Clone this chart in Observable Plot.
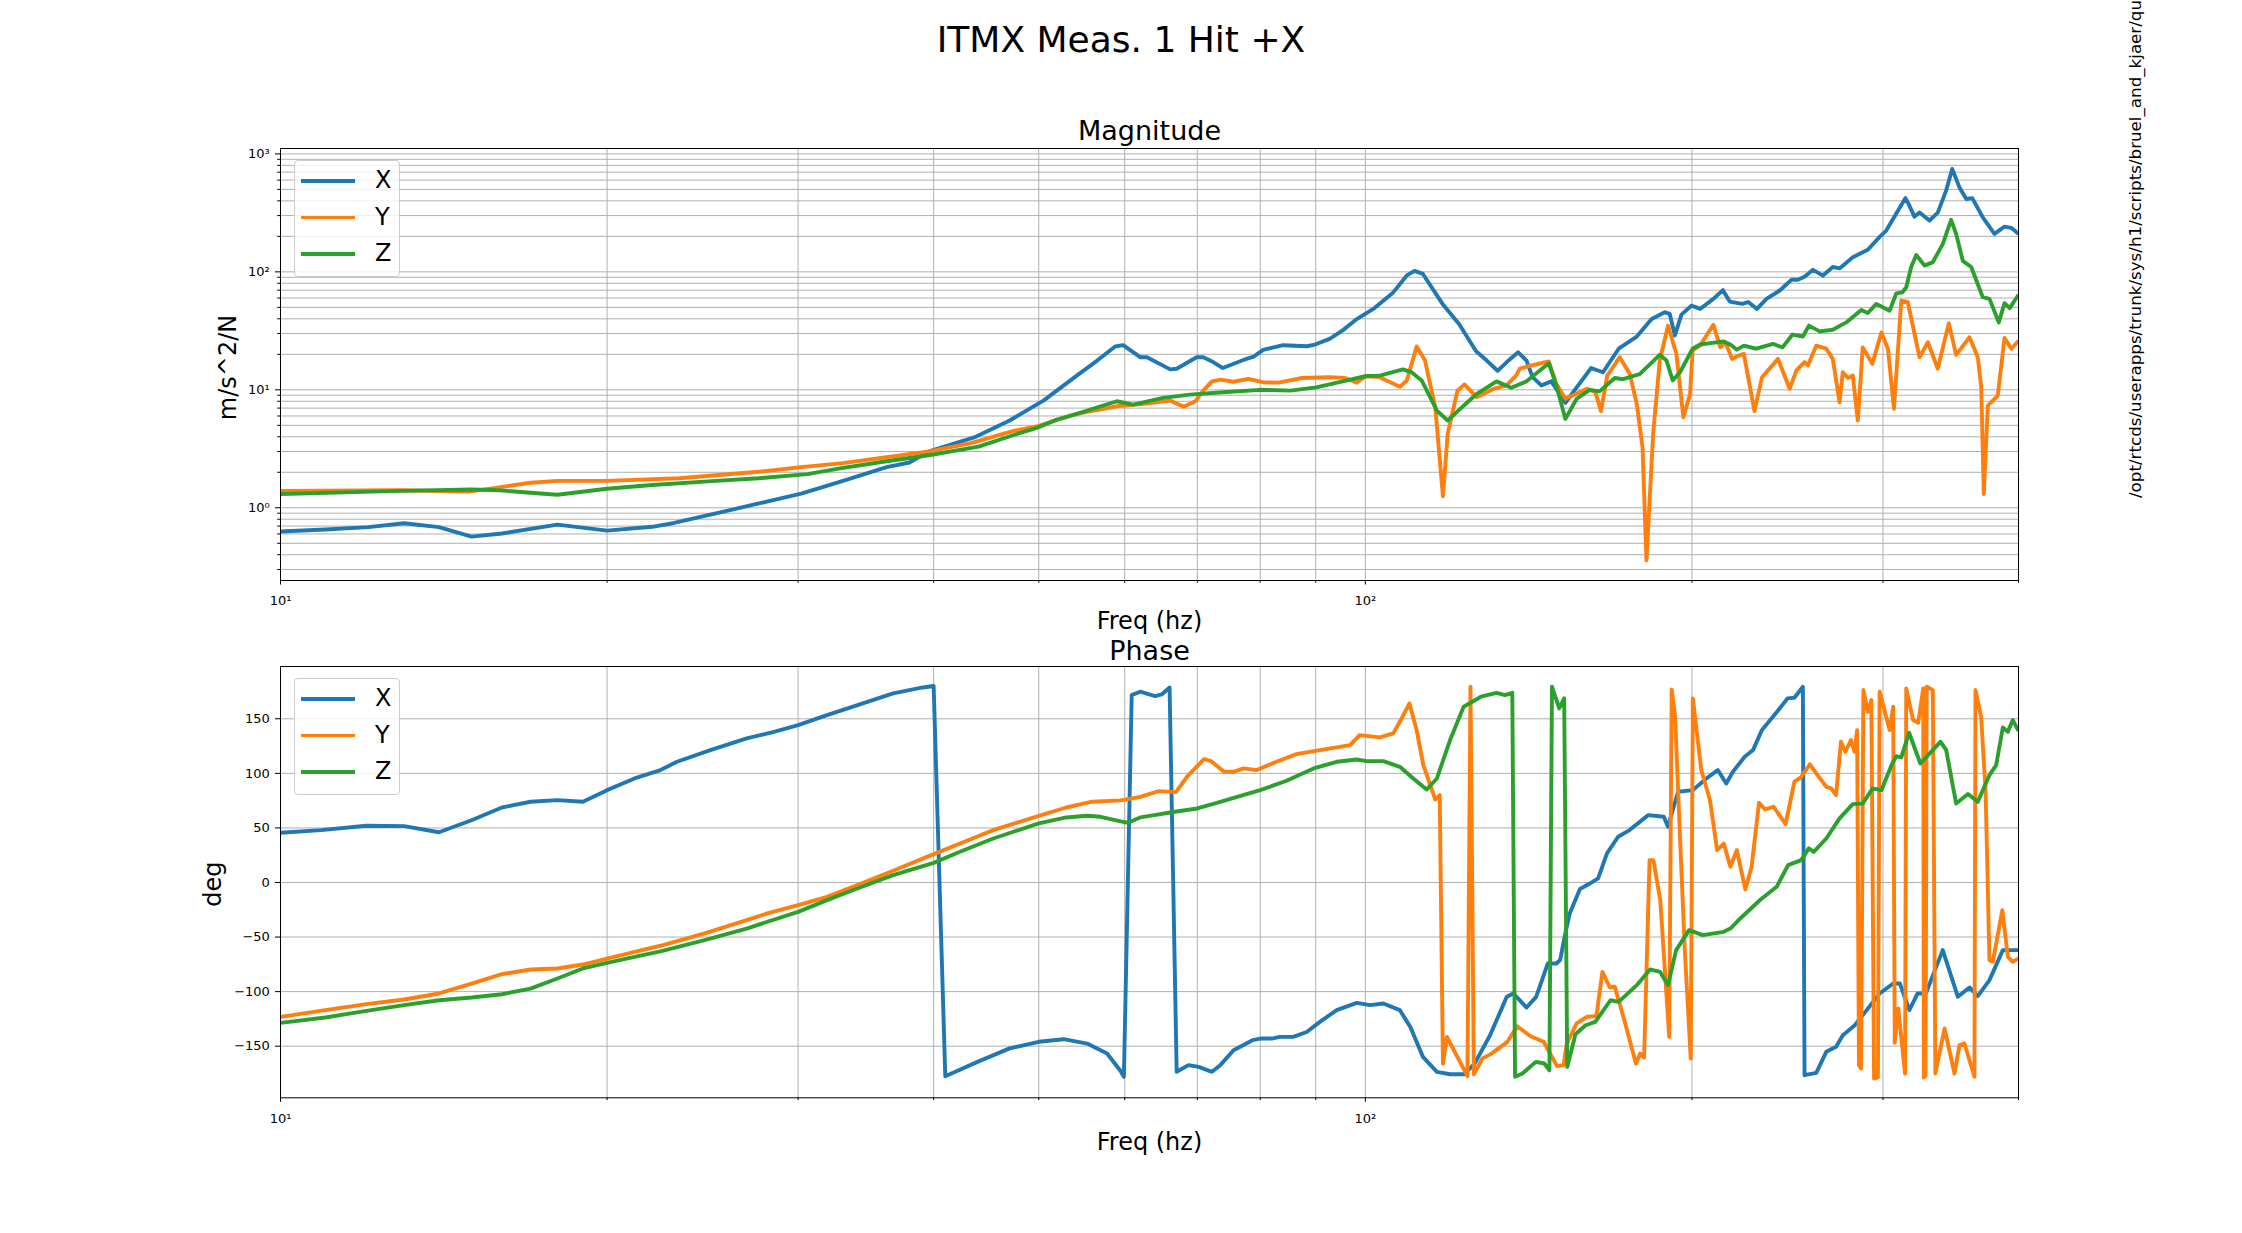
<!DOCTYPE html>
<html>
<head>
<meta charset="utf-8">
<script src="https://cdn.jsdelivr.net/npm/d3@7"></script>
<script src="https://cdn.jsdelivr.net/npm/@observablehq/plot@0.6"></script>
<style>
  html, body { margin: 0; padding: 0; background: white; overflow: hidden; }
  #fig { position: relative; width: 2242px; height: 1233px; overflow: hidden; background: white;
         font-family: "DejaVu Sans", sans-serif; color: black; }
  .abs { position: absolute; white-space: nowrap; line-height: 1; }
  .plotwrap { position: absolute; left: 0; }
</style>
</head>
<body>
<div id="fig"></div>
<script>
// ---------- text ----------
const figTitle = "ITMX Meas. 1 Hit +X";
const magTitle = "Magnitude";
const phaseTitle = "Phase";
const xLabel = "Freq (hz)";
const magYLabel = "m/s^2/N";
const phaseYLabel = "deg";
const sideText = "/opt/rtcds/userapps/trunk/sys/h1/scripts/bruel_and_kjaer/qu";

// ---------- series ----------
const seriesNames = ["X", "Y", "Z"];
const seriesColors = ["#1f77b4", "#ff7f0e", "#2ca02c"];

// ---------- ticks ----------
const freqTicks = [10, 100];
const freqTickLabels = ["10\u00B9", "10\u00B2"];
const freqMinor = [20, 30, 40, 50, 60, 70, 80, 90, 200, 300, 400];
const magTicks = [1, 10, 100, 1000];
const magTickLabels = ["10\u2070", "10\u00B9", "10\u00B2", "10\u00B3"];
const magMinor = [0.3, 0.4, 0.5, 0.6, 0.7, 0.8, 0.9, 2, 3, 4, 5, 6, 7, 8, 9,
                  20, 30, 40, 50, 60, 70, 80, 90, 200, 300, 400, 500, 600, 700, 800, 900];
const phaseTicks = [-150, -100, -50, 0, 50, 100, 150];

// ---------- magnitude data [freq Hz, m/s^2/N] ----------
const magX = [[10,0.63],[11,0.655],[12.05,0.685],[13,0.74],[14,0.685],[15,0.57],[16,0.605],[18,0.72],[20,0.64],[22,0.69],[23,0.74],[25.2,0.895],[27.6,1.09],[30.2,1.32],[33,1.69],[36.2,2.21],[38,2.42],[39.6,3.01],[43.6,3.95],[47,5.49],[50.5,8.1],[54.2,13.2],[56.6,17.7],[58.8,23.3],[59.8,23.9],[62,18.9],[62.9,18.9],[66.1,14.9],[67,15.1],[69.9,18.9],[70.9,18.9],[72.4,17.2],[73.9,15.3],[77.3,18],[78.9,19.1],[80.5,21.8],[84,23.9],[88.3,23.4],[89.9,24.2],[92.7,27],[95.3,31.9],[98.2,39.8],[101.7,48.5],[106.1,67],[109.2,93.3],[111,102],[113,96],[117.8,53.5],[122,36.2],[126.5,21.2],[129.4,17.7],[132.4,14.5],[135,17.2],[138.3,20.8],[140.8,17.7],[142.6,12.8],[145.3,10.9],[148.4,11.8],[152.9,7.75],[156.6,10.5],[161.5,15.3],[165.6,14.1],[171.2,22.3],[177.9,28.3],[183.6,39.8],[188.8,45.5],[190.8,44],[192.9,28.9],[195.6,43.4],[199.8,51.7],[203.5,48.5],[209.3,59],[213.6,70],[216.7,56],[222.5,53.5],[225.4,55.5],[229.6,48.5],[234.3,59],[241,69.5],[247,85.6],[250.4,85.6],[254,91],[258.6,104],[264.1,93],[269.7,110],[273.6,107],[281.4,133],[290.5,154],[297.9,198],[302.1,224],[308.6,312],[314.7,422],[317.3,364],[320.7,294],[324.2,318],[331.1,272],[337,318],[343.1,491],[347.5,746],[352.9,520],[358,415],[362.6,422],[370.8,290],[380.1,210],[388.3,242],[393.9,236],[400,210]];

const magY = [[10,1.39],[12.9,1.41],[14.9,1.37],[15.9,1.49],[17,1.63],[18,1.69],[20,1.69],[23.3,1.78],[27.6,2.02],[30.2,2.21],[33,2.39],[36.2,2.68],[39.6,3.01],[43.2,3.52],[47.5,4.5],[49.8,4.89],[52,5.6],[54.2,6.26],[59,7.26],[62.5,7.6],[66.1,8.1],[68,7.2],[69.7,8],[70.9,9.85],[72.2,11.8],[73.6,12.2],[75.6,11.7],[78,12.4],[80.4,11.6],[83.2,11.5],[87.4,12.6],[92.7,12.8],[95.8,12.6],[98.2,11.5],[100,13],[103.1,12.8],[107.6,10.6],[109.2,12],[111.5,23.3],[113.5,17.7],[116,7.1],[117.9,1.25],[119.1,4.24],[121.6,9.85],[123.4,11.1],[125,9.85],[126.6,8.66],[131.3,10.2],[134.9,10.9],[137.7,13.2],[138.8,15.1],[142,16],[147.6,17.4],[150,11.2],[152.9,8.4],[156.3,9.2],[160,10.2],[162.9,9.6],[164.9,6.6],[167.1,13.2],[171.6,18.9],[175.3,13.6],[177.9,7.6],[180.1,3.26],[181.6,0.358],[184.2,4.24],[186.8,17.7],[190.1,35],[193.5,20.2],[196.4,5.85],[199.2,9.2],[200.3,21.6],[203.5,23.7],[209.3,35.6],[212.4,22.9],[214.7,25.3],[217.8,18.3],[220.9,19.5],[223.3,20.2],[228.4,6.6],[232.1,12.8],[240.1,18.3],[246.1,10.2],[249.7,14.6],[254,17.2],[255.8,16.1],[260.4,23.7],[266,22.3],[269.7,18.3],[273.6,7.85],[275.5,14.1],[278.5,12.6],[281.4,13.2],[284.4,5.49],[287.4,22.9],[293.3,16.6],[299,30.6],[303.2,22.3],[307.1,6.9],[311.9,57],[316.2,55.5],[324.2,18.9],[330,25.3],[337,15.1],[345,36.6],[350.4,19.8],[360.5,27.9],[366.9,18.9],[369.6,10.5],[371.6,1.31],[374.8,7.36],[382.8,8.95],[388.3,27.5],[393.9,22.3],[400,26]];

const magZ = [[10,1.31],[12.9,1.39],[15,1.43],[15.9,1.41],[17,1.34],[18,1.29],[20,1.45],[22,1.56],[25.2,1.69],[27.6,1.78],[30.6,1.93],[33,2.18],[36.2,2.48],[39.6,2.79],[44,3.3],[47.5,4.16],[49.8,4.76],[52,5.6],[54.2,6.26],[59,8],[61.1,7.5],[65.1,8.55],[68.9,9.1],[73.9,9.55],[80,10],[85.3,9.85],[90.1,10.5],[95.3,11.8],[100.2,13.1],[103.1,13.2],[108.3,14.9],[110.3,14.1],[112.7,12],[116.4,6.67],[119.1,5.49],[122.3,6.9],[126.7,9.25],[132.1,11.8],[136.3,10.4],[140.8,11.8],[147.6,16.8],[150,10.9],[152.9,5.67],[156.6,8.4],[161,10],[164.4,9.7],[169.8,12.6],[172.8,12.3],[179,13.6],[186.8,19.8],[189.5,17.7],[192,12],[195,14.1],[200.3,22.3],[203.5,24.2],[207.9,24.9],[214,25.7],[217,24.2],[220,21.9],[223.3,23.7],[229.3,22.3],[237.6,24.5],[242.4,22.9],[247.6,29.4],[253.1,28.3],[256.4,35],[262.3,31.3],[269.7,32.3],[277.5,37.3],[286.5,47.6],[290.5,44.8],[295.8,53.5],[304.3,46.9],[308.6,65.7],[312.6,67],[315.2,74],[318.5,110],[322,139],[327.7,113],[333.5,121],[340.6,172],[346.7,276],[350.4,210],[355.4,124],[361.8,110],[370.8,61],[376.1,59],[383.6,37.3],[388.3,54.2],[392.6,49.3],[400,64]];

// ---------- phase data [freq Hz, deg] ----------
const phaseX = [[10,45.5],[10.9,48],[12,52],[13,51.6],[14,46],[15,57],[16,68.7],[17,74],[18,75.5],[19,74],[20,84.6],[21.2,95.3],[22.4,103],[23.2,110.6],[24.9,121.3],[26.9,132],[28.5,138],[30,144.2],[31.9,153.4],[34.2,163.2],[36.7,173.2],[39.1,178.7],[40,180],[41,-177.5],[43.9,-164.4],[47,-152],[50,-146],[52.7,-143.6],[55.4,-147.6],[57.8,-156.7],[59.5,-173],[59.9,-178],[60.9,171.7],[62,174.8],[64,170.8],[64.9,172.3],[66,178.7],[67,-173.5],[68.7,-167.4],[70.2,-169],[72.2,-173.5],[73.5,-167.4],[75.6,-153.7],[78.7,-144.5],[80,-143],[82,-143],[83.4,-141.5],[85.8,-141.5],[88.3,-137],[90.8,-127.7],[94.1,-117],[98.2,-110.3],[101,-112.4],[103.9,-110.9],[107.6,-117],[110,-132.3],[113,-159.8],[116.4,-173.5],[119.7,-175.7],[123.4,-175.7],[126.1,-166],[130.3,-140],[135,-104.8],[136.9,-101.7],[140.8,-114.6],[143.7,-104.8],[147.3,-74.2],[150,-74.2],[151.2,-71],[153.1,-43.7],[154.3,-28.4],[157.7,-6],[161,-1],[163.9,3.7],[167,26.6],[171,41.9],[175.2,48],[182.3,61.7],[188.4,60.2],[190.1,51],[194.2,83.1],[200.4,84.6],[206.2,95.3],[211.3,103],[215.1,90.7],[218.2,101.4],[223.7,115.2],[227.7,121.3],[232,139.6],[239.6,156.4],[245,168.7],[248.6,169.3],[253.1,179.3],[254,-176.6],[260.4,-174.5],[266,-155.2],[271.6,-150.6],[275.5,-140],[282.6,-130.8],[289.8,-117],[297.9,-101.7],[306.6,-92.6],[311,-92.6],[317.3,-117],[322.9,-101.7],[328.6,-101.7],[340.6,-62],[351.7,-104.8],[360.5,-96.2],[366.9,-104.2],[376.1,-89.5],[386.9,-62],[400,-62]];

const phaseY = [[10,-123.1],[11,-117],[12,-111.5],[13,-107.2],[14,-101.7],[15,-92.6],[16,-84],[17,-79.7],[18,-78.8],[19,-75.2],[20,-69.7],[21.2,-63.5],[22.4,-58],[24.6,-46.7],[26.9,-34.5],[28.1,-28.4],[30,-20.8],[31.9,-13.1],[34.2,-1.5],[36.7,10.7],[40,26],[42.3,35.7],[45.4,48],[50,61.1],[53,68.7],[56,74],[59.5,75.2],[62,78.5],[64.5,83.7],[66.9,82.8],[68.5,96.9],[71,113],[72,111.5],[74.1,101.4],[75.6,101.4],[77.2,104.5],[79.4,103],[82.8,110.6],[86.4,117.6],[90.8,121.3],[96.8,125.9],[98.8,135],[103.1,132.9],[106.1,136.6],[108,150.3],[109.8,164],[111.5,139.6],[113.1,107.5],[116,76],[117.1,80],[117.9,-166],[118.9,-141.5],[124.2,-177.5],[125,179.5],[125.9,-175.7],[128.2,-161.3],[130.5,-157.3],[135.2,-146],[138,-131.7],[142,-140.9],[146,-146],[150.2,-168.3],[152.3,-167.4],[153.3,-148],[155.5,-135.3],[156.6,-129.2],[160,-123.1],[163.3,-122.5],[165.4,-81.9],[168,-96.2],[169.8,-95.6],[173.6,-129.2],[177.6,-166],[179.2,-156.7],[180.7,-160.4],[182.8,20.5],[184.3,20.5],[187,-16.2],[190.6,-141.5],[191.6,176.9],[193,151.8],[195,41.9],[197,-62],[199.5,-161.3],[200.4,168.7],[204,103],[207.8,75.5],[211,29.6],[214,35.7],[217,14.4],[220,29.6],[224,-6.4],[227,14.4],[230.6,73],[233.6,66.9],[237.8,69.4],[244,53.5],[248.6,92.3],[252,96.2],[256.9,108.2],[260.4,100],[266,87.7],[268.8,86.2],[271.6,80],[274.4,128.9],[277,119.8],[280.3,130.5],[282.4,119.8],[284,139.6],[285.1,-167.4],[286.4,-170.5],[287.8,176.3],[290.5,156.4],[292.7,167.1],[294.4,-179.7],[296.8,-178.7],[297.9,174.8],[304.3,139.6],[306.6,161],[307.6,-147],[309.9,-115.5],[314.4,-175],[315.2,177.8],[319.8,148.8],[323.3,146.3],[326.8,177.8],[327.2,-178.7],[328.4,-177],[329.2,179.5],[333.5,176.3],[335.3,-175],[341.9,-133.8],[349.2,-175],[352.9,-149],[356.6,-147.6],[364.3,-178],[365.1,176.3],[369.5,151.8],[373,84.6],[376.1,-71.2],[378.8,-72.7],[386.5,-25.4],[391.1,-68.1],[395.2,-72.7],[400,-69.7]];

const phaseZ = [[10,-128.6],[11,-123.7],[12,-117.6],[13,-112.4],[14,-107.9],[15,-105.4],[16,-102.4],[17,-97.2],[18,-88],[19,-78.8],[20,-73.6],[21.2,-68.1],[22.4,-63.2],[24.6,-52.9],[26.9,-42.2],[30,-26.9],[31.9,-16.2],[34.2,-4.6],[36.7,6.7],[40,18],[42.3,28.1],[45.4,40.3],[50,54.1],[53,59.6],[55.4,61.1],[57,60.2],[59.5,56],[60.4,54.7],[62,59.6],[63.9,61.7],[66.7,64.8],[70,67.8],[73.5,73.9],[77.7,81],[80,84.6],[84.6,93.2],[89.6,104.5],[94.1,110.6],[98.2,112.7],[100.2,111.2],[103.9,111.2],[107.6,106],[110.7,95.3],[113.9,85.2],[116.4,95.3],[119.7,130.5],[123.2,161],[127.8,170.2],[132.1,173.8],[134.5,171.7],[136.6,173.8],[137.4,-178],[139.6,-175],[143.6,-164.4],[146.2,-165.9],[147.8,-172],[148.6,179.5],[150.9,159.5],[152.5,168.7],[153.5,-169],[156.2,-139],[159.6,-130.8],[162.9,-127.7],[168.3,-107.9],[171.2,-109.4],[177.9,-94.1],[183,-79.7],[186.9,-81.9],[190.1,-94.1],[193.4,-62],[198.8,-43.7],[204.6,-48.3],[213.9,-45.2],[217,-42.2],[221.6,-33],[231.4,-15.6],[239.4,-4],[245.3,15.9],[252.2,20.5],[256.3,31.2],[259,28.1],[266,40.3],[273.6,58.7],[281.4,71.8],[287.4,72.4],[293.5,86.2],[299,84.6],[305.5,107.5],[308.6,115.8],[311.9,114.6],[317.1,137.2],[324.8,109],[339,129],[343.1,121.3],[350.4,72.4],[359.3,81],[366.9,73.9],[376.1,98.4],[381.5,107.5],[386.9,142],[391.1,138],[395.2,148.8],[400,139]];

// ---------- build ----------
const fig = document.getElementById("fig");
const magSeries = [magX, magY, magZ];
const phaseSeries = [phaseX, phaseY, phaseZ];
const freqLabelMap = new Map(freqTicks.map((t, i) => [t, freqTickLabels[i]]));
const magLabelMap = new Map(magTicks.map((t, i) => [t, magTickLabels[i]]));
const minus = d => d < 0 ? "\u2212" + (-d) : String(d);
const gridStyle = {stroke: "#b0b0b0", strokeWidth: 1};
const plotStyle = {fontFamily: "DejaVu Sans", background: "transparent", overflow: "visible", color: "black"};

function commonMarks(series, yGrid, title, titleDy, xlabelDy, ylabel, ylabelDx, ylabelDy) {
  return [
    Plot.ruleX(freqMinor.concat(freqTicks), gridStyle),
    Plot.ruleY(yGrid, gridStyle),
    ...series.map((s, i) => Plot.line(s, {x: d => d[0], y: d => d[1], stroke: seriesColors[i],
        strokeWidth: 3.9, strokeLinejoin: "round", strokeLinecap: "butt", clip: true})),
    Plot.frame({stroke: "black", strokeWidth: 1}),
    Plot.axisX(freqTicks, {anchor: "bottom", tickSize: 4.5, tickPadding: 11, fontSize: 13,
        tickFormat: d => freqLabelMap.get(d), label: null}),
    Plot.axisX(freqMinor, {anchor: "bottom", tickSize: 2.8, tickFormat: () => "", label: null}),
    Plot.text([title], {text: d => d, frameAnchor: "top", dy: titleDy, lineAnchor: "bottom", fontSize: 27}),
    Plot.text([xLabel], {text: d => d, frameAnchor: "bottom", dy: xlabelDy, lineAnchor: "bottom", fontSize: 24}),
    Plot.text([ylabel], {text: d => d, frameAnchor: "left", dx: ylabelDx, dy: ylabelDy, rotate: -90,
        textAnchor: "middle", lineAnchor: "bottom", fontSize: 24})
  ];
}

const magPlot = Plot.plot({
  width: 2242, height: 540,
  marginLeft: 280, marginRight: 224, marginTop: 48, marginBottom: 60,
  style: plotStyle,
  x: {type: "log", domain: [10, 400], label: null},
  y: {type: "log", domain: [0.2419, 1111], label: null},
  marks: [
    ...commonMarks(magSeries, magMinor.concat(magTicks), magTitle, -9, 48.5, magYLabel, -44.8, 3),
    Plot.axisY(magTicks, {anchor: "left", tickSize: 5, tickPadding: 5.7, fontSize: 13,
        tickFormat: d => magLabelMap.get(d), label: null}),
    Plot.axisY(magMinor, {anchor: "left", tickSize: 2.8, tickFormat: () => "", label: null})
  ]
});

const phasePlot = Plot.plot({
  width: 2242, height: 547.3,
  marginLeft: 280, marginRight: 224, marginTop: 46, marginBottom: 70,
  style: plotStyle,
  x: {type: "log", domain: [10, 400], label: null},
  y: {type: "linear", domain: [-197.3, 197.9], label: null},
  marks: [
    ...commonMarks(phaseSeries, phaseTicks, phaseTitle, -6.5, 52, phaseYLabel, -59.4, 2),
    Plot.axisY(phaseTicks, {anchor: "left", tickSize: 5, tickPadding: 5.7, fontSize: 13,
        tickFormat: minus, label: null})
  ]
});

function place(el, top) {
  const w = document.createElement("div");
  w.className = "plotwrap";
  w.style.top = top + "px";
  w.appendChild(el);
  fig.appendChild(w);
}
place(magPlot, 100);
place(phasePlot, 620);

function addText(txt, left, baseline, size, extra = {}) {
  const d = document.createElement("div");
  d.className = "abs";
  d.textContent = txt;
  d.style.fontSize = size + "px";
  d.style.left = left + "px";
  d.style.top = (baseline - 0.846 * size) + "px";
  Object.assign(d.style, extra);
  fig.appendChild(d);
  return d;
}

// figure title (centered on figure)
addText(figTitle, 0, 52.2, 36, {width: "2242px", textAlign: "center"});

// side path text (rotated, reading bottom-to-top)
(function () {
  const size = 16.7;
  const d = document.createElement("div");
  d.className = "abs";
  d.textContent = sideText;
  d.style.fontSize = size + "px";
  d.style.left = (2141.5 - 0.846 * size) + "px";
  d.style.top = "498.3px";
  d.style.transformOrigin = "0 0";
  d.style.transform = "rotate(-90deg)";
  fig.appendChild(d);
})();

// legends (matplotlib style, upper left)
function legend(axTop) {
  const box = document.createElement("div");
  box.className = "abs";
  Object.assign(box.style, {left: "294px", top: (axTop + 12.3) + "px", width: "106px", height: "116.7px",
    boxSizing: "border-box", border: "1px solid #cccccc", borderRadius: "4px",
    background: "rgba(255,255,255,0.8)"});
  fig.appendChild(box);
  seriesNames.forEach((name, i) => {
    const cy = axTop + 33 + i * 36.35;
    const bar = document.createElement("div");
    bar.className = "abs";
    Object.assign(bar.style, {left: "301px", top: (cy - 1.85) + "px", width: "54px", height: "3.7px",
      background: seriesColors[i]});
    fig.appendChild(bar);
    addText(name, 375, cy + 7.7, 24);
  });
}
legend(148);
legend(666);
</script>
</body>
</html>
